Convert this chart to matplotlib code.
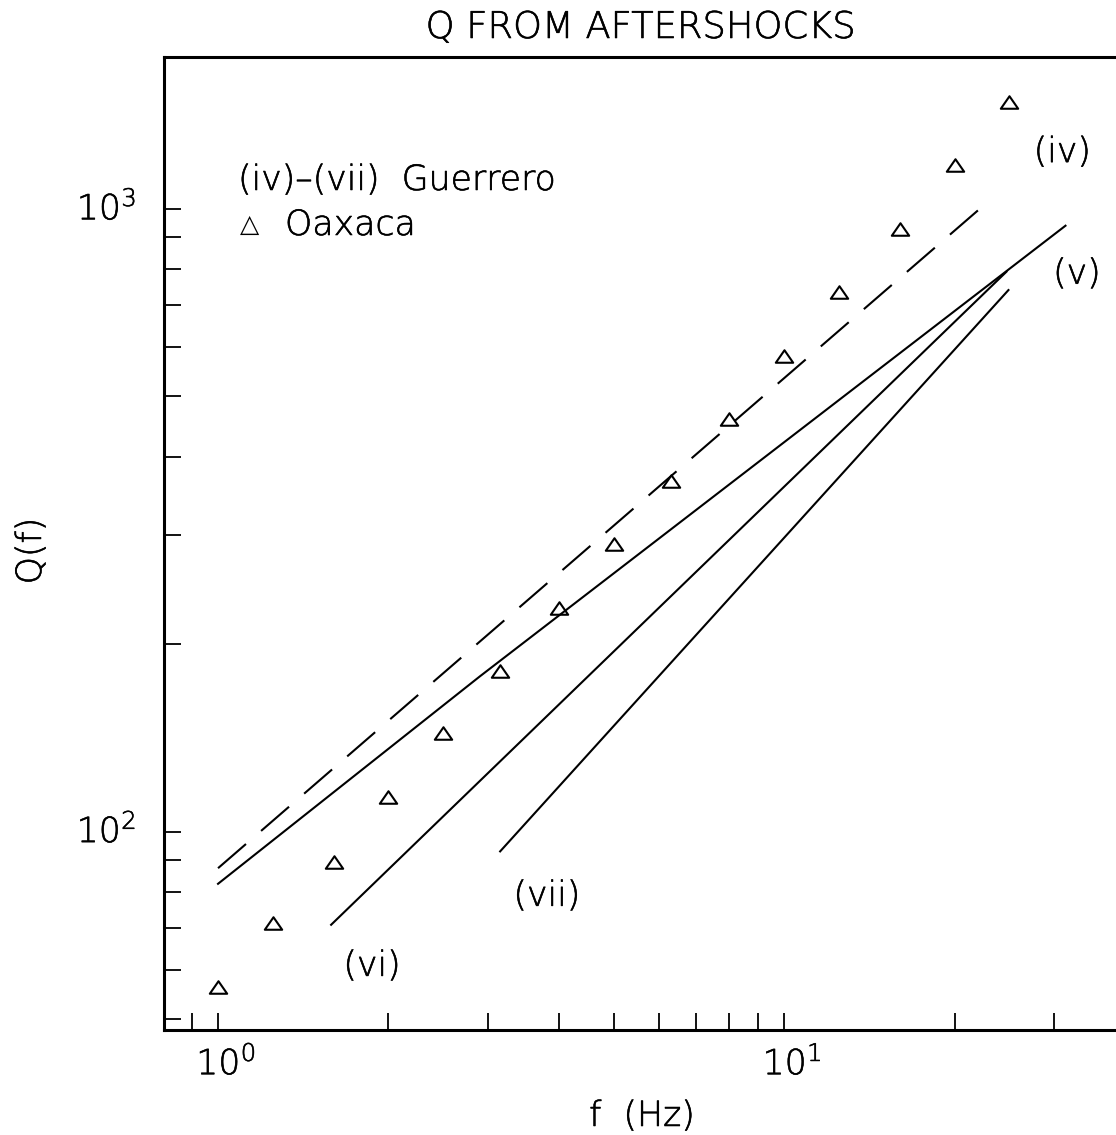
import numpy as np
import matplotlib
matplotlib.use("Agg")
import matplotlib.pyplot as plt
import matplotlib.patheffects as pe
from matplotlib.path import Path
from matplotlib.ticker import FixedLocator, NullFormatter, FixedFormatter
from matplotlib.transforms import ScaledTranslation

plt.rcParams['font.family'] = ['DejaVu Sans']
plt.rcParams['font.weight'] = 'light'
plt.rcParams['mathtext.fontset'] = 'custom'
plt.rcParams['mathtext.rm'] = 'DejaVu Sans:light'
plt.rcParams['mathtext.it'] = 'DejaVu Sans:light'
plt.rcParams['mathtext.default'] = 'regular'

# ---- data ----
f_oaxaca = [1.0, 1.25, 1.6, 2.0, 2.5, 3.15, 4.0, 5.0, 6.3, 8.0, 10.0, 12.5, 16.0, 20.0, 25.0]
q_oaxaca = [56.4, 71.4, 89.5, 113.8, 144.2, 181.3, 228.8, 290, 366, 460, 581, 736, 929, 1176, 1485]

f_iv = [1.0, 23.3]
q_iv = [87.4, 1041]
f_v = [1.0, 2.9, 31.4]
q_v = [82.5, 177.6, 940]
f_vi = [1.584, 24.7]
q_vi = [70.9, 793]
f_vii = [3.15, 24.9]
q_vii = [93.0, 741]

x_major = [1, 10]
x_major_labels = [r'$10^{0}$', r'$10^{1}$']
y_major = [100, 1000]
y_major_labels = [r'$10^{2}$', r'$10^{3}$']
x_minor = [0.9, 2, 3, 4, 5, 6, 7, 8, 9, 20, 30]
y_minor = [50, 60, 70, 80, 90, 200, 300, 400, 500, 600, 700, 800, 900]

W, H = 1116, 1135
FS = 25
stroke = [pe.withStroke(linewidth=0.4, foreground='black')]

fig = plt.figure(figsize=(W / 100, H / 100), dpi=100)
L, R, T, B = 164, 1125, 57, 1030
ax = fig.add_axes([L / W, 1 - B / H, (R - L) / W, (B - T) / H])
ax.set_xscale('log')
ax.set_yscale('log')
ax.set_xlim(0.8027, 40)
ax.set_ylim(48.05, 1754)


def axpos(px, py):
    return (px - L) / (R - L), 1 - (py - T) / (B - T)


lw = 1.5
ax.plot(f_iv, q_iv, color='black', lw=lw,
        linestyle=(0, (26.6 / lw, 14.4 / lw)), solid_capstyle='butt', dash_capstyle='butt')
ax.plot(f_v, q_v, color='black', lw=lw)
ax.plot(f_vi, q_vi, color='black', lw=lw)
ax.plot(f_vii, q_vii, color='black', lw=lw)

tri = Path([(-1, -0.72), (1, -0.72), (0, 0.72), (-1, -0.72)],
           [Path.MOVETO, Path.LINETO, Path.LINETO, Path.CLOSEPOLY])
ax.plot(f_oaxaca, q_oaxaca, linestyle='none', marker=tri, markersize=12.5,
        markerfacecolor='none', markeredgecolor='black', markeredgewidth=1.5)

# curve labels
for txt, x, y in [('(iv)', 31.0, 1234), ('(v)', 32.9, 787), ('(vi)', 1.871, 60.9), ('(vii)', 3.81, 78.9)]:
    ax.text(x, y, txt, fontsize=FS, ha='center', va='center', path_effects=stroke)

# legend text
x0, y0 = axpos(238, 180)
ax.text(x0, y0, '(iv)\u2013(vii)  Guerrero', transform=ax.transAxes, fontsize=FS,
        ha='left', va='center', path_effects=stroke)
x1, y1 = axpos(250, 225)
ax.text(x1, y1, '\u25b3', transform=ax.transAxes, fontsize=18, ha='center', va='center',
        family=['DejaVu Sans'], weight='normal')
x2, y2 = axpos(285, 225)
ax.text(x2, y2, 'Oaxaca', transform=ax.transAxes, fontsize=FS, ha='left', va='center',
        path_effects=stroke)

# ticks
ax.xaxis.set_major_locator(FixedLocator(x_major))
ax.xaxis.set_major_formatter(FixedFormatter(x_major_labels))
ax.xaxis.set_minor_locator(FixedLocator(x_minor))
ax.xaxis.set_minor_formatter(NullFormatter())
ax.yaxis.set_major_locator(FixedLocator(y_major))
ax.yaxis.set_major_formatter(FixedFormatter(y_major_labels))
ax.yaxis.set_minor_locator(FixedLocator(y_minor))
ax.yaxis.set_minor_formatter(NullFormatter())

ax.tick_params(which='both', direction='in', length=12, width=1.3,
               top=False, right=False, labelsize=FS)
ax.tick_params(axis='x', which='major', pad=11)
ax.tick_params(axis='y', which='major', pad=20)
for s in ax.spines.values():
    s.set_linewidth(2.2)

for lab in ax.get_xticklabels():
    lab.set_transform(lab.get_transform() + ScaledTranslation(8 / 100, 0, fig.dpi_scale_trans))
    lab.set_path_effects(stroke)
for lab in ax.get_yticklabels():
    lab.set_transform(lab.get_transform() + ScaledTranslation(0, 4 / 100, fig.dpi_scale_trans))
    lab.set_path_effects(stroke)

fig.text(640 / W, 1 - 27 / H, 'Q FROM AFTERSHOCKS', fontsize=26.5, ha='center', va='center',
         path_effects=stroke)
fig.text(642 / W, 1 - 1116 / H, 'f  (Hz)', fontsize=FS, ha='center', va='center',
         path_effects=stroke)
fig.text(31 / W, 1 - 551 / H, 'Q(f)', fontsize=FS, ha='center', va='center', rotation=90,
         path_effects=stroke)

fig.savefig('out.png', dpi=100)
